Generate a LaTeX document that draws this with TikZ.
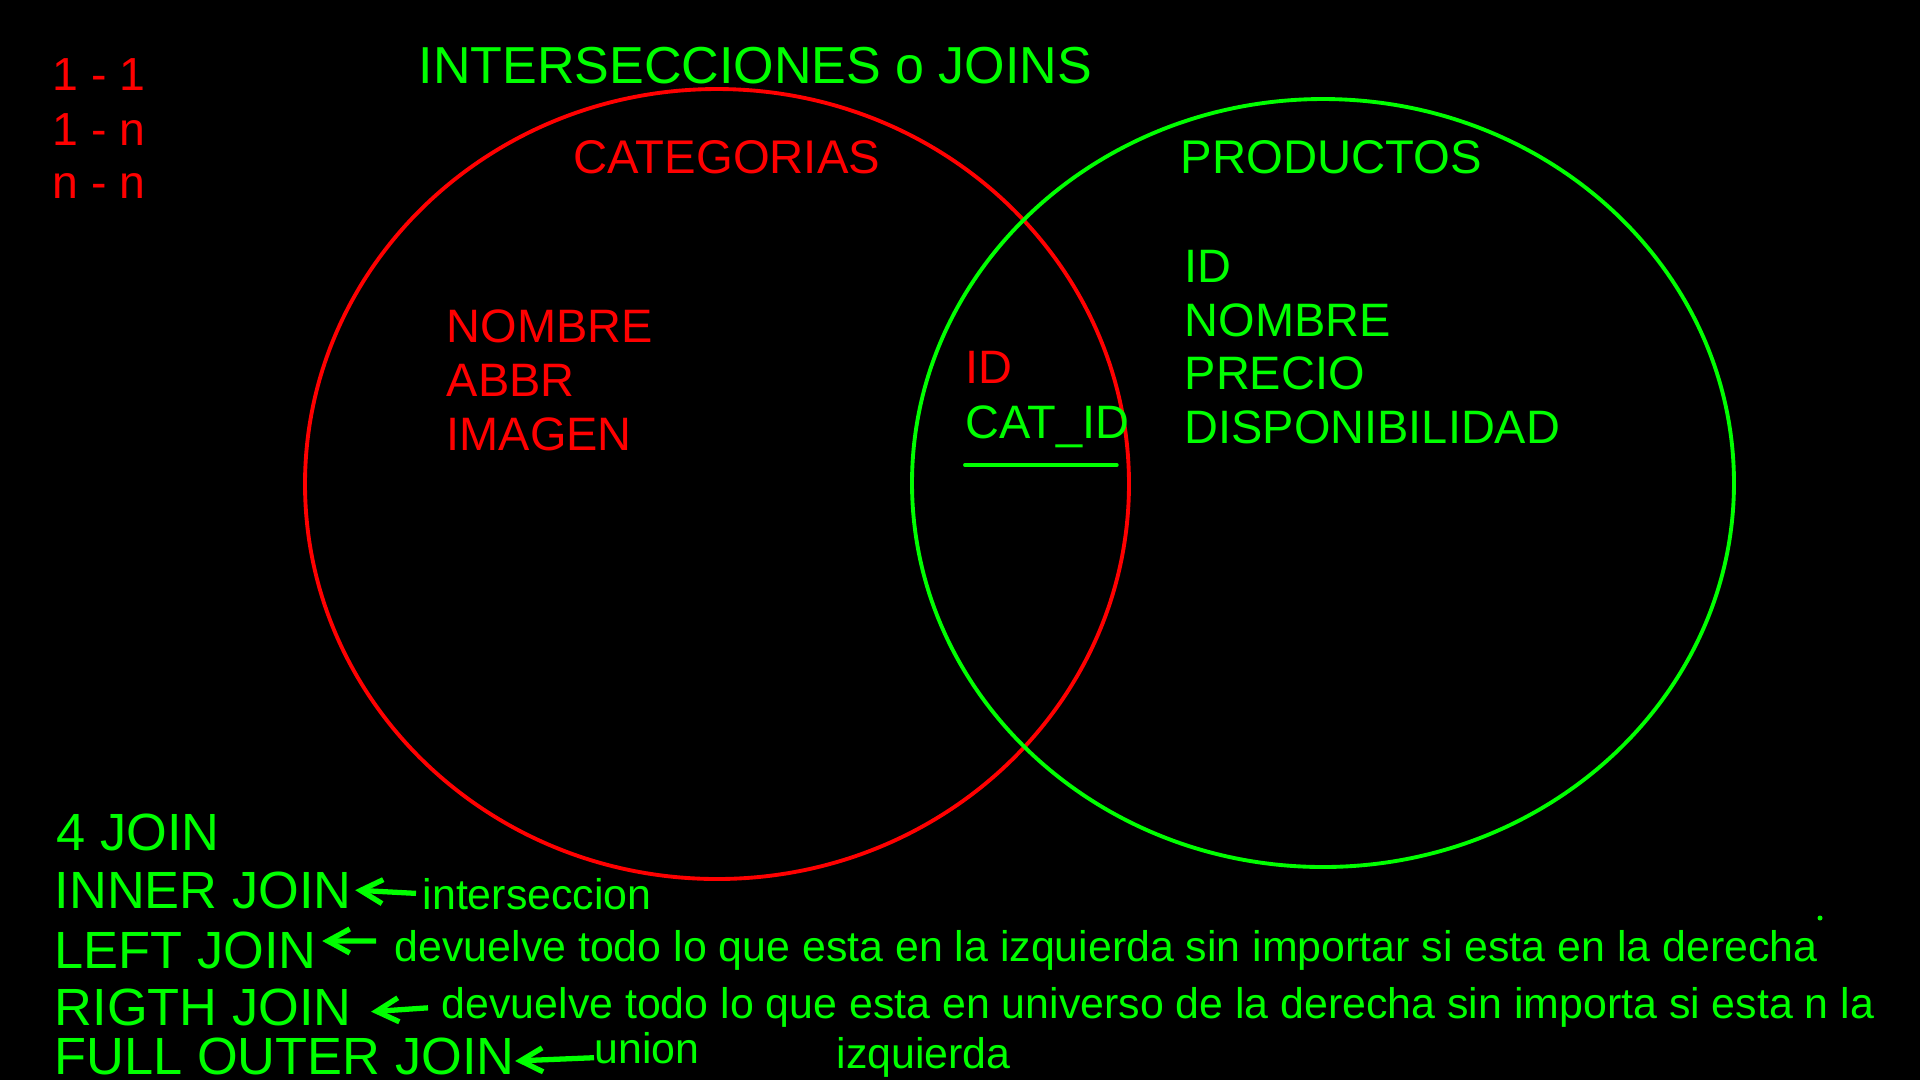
\documentclass[tikz,border=0pt]{standalone}
\usepackage{fontspec}
\setmainfont{Liberation Sans}
\usepackage{tikz}
\usetikzlibrary{arrows.meta,positioning}
\definecolor{Rojo}{HTML}{FF0000}
\definecolor{Verde}{HTML}{00FF00}

\begin{document}
\begin{tikzpicture}[
  x=0.1mm,y=-0.1mm,
  txt/.style={inner sep=0pt,anchor=base west},
  titulo/.style={txt,text=Verde,font=\fontsize{14.8}{17}\selectfont},
  tabla/.style={txt,font=\fontsize{13.45}{16}\selectfont},
  campo/.style={txt,font=\fontsize{13.35}{16}\selectfont},
  rel/.style={txt,text=Rojo,font=\fontsize{13.2}{16}\selectfont},
  tipojoin/.style={txt,text=Verde,font=\fontsize{14.9}{17}\selectfont},
  nota/.style={txt,text=Verde,font=\fontsize{12.2}{15}\selectfont},
  flecha/.style={-{Straight Barb[length=2.2mm,width=2.4mm]},line width=1.5pt,draw=Verde},
  conjunto/.style={line width=1.1pt}
]
\fill[black] (0,0) rectangle (1920,1080);
\useasboundingbox (0,0) rectangle (1920,1080);

% conjuntos
\draw[conjunto,draw=Rojo] (717,484) ellipse [x radius=41.2mm,y radius=39.5mm];
\draw[conjunto,draw=Verde] (1323,483) ellipse [x radius=41.1mm,y radius=38.4mm];

\node[titulo] (titulo) at (418,83) {INTERSECCIONES o JOINS};
\node[rel] (r11) at (52,90) {1 - 1};
\node[rel] (r1n) at ([yshift=-5.5mm]r11.base west) {1 - n};
\node[rel] (rnn) at ([yshift=-5.3mm]r1n.base west) {n - n};

\node[tabla,text=Rojo] (cat) at (573,173) {CATEGORIAS};
\node[tabla,text=Verde] (prod) at (1180,173) {PRODUCTOS};

% campos de categorias
\node[campo,text=Rojo] (cNombre) at (446,342) {NOMBRE};
\node[campo,text=Rojo] (cAbbr) at ([yshift=-5.4mm]cNombre.base west) {ABBR};
\node[campo,text=Rojo] (cImagen) at ([yshift=-5.4mm]cAbbr.base west) {IMAGEN};

% interseccion
\node[campo,text=Rojo] (pId) at (965,383) {ID};
\node[campo,text=Verde] (pCatId) at ([yshift=-5.5mm]pId.base west) {CAT\_ID};
\draw[Verde,line width=1.1pt,line cap=round] ([yshift=-2.7mm]pCatId.base west) -- ([xshift=-1.3mm,yshift=-2.7mm]pCatId.base east);

% campos de productos
\node[campo,text=Verde] (gId) at (1184,282) {ID};
\node[campo,text=Verde] (gNombre) at ([yshift=-5.4mm]gId.base west) {NOMBRE};
\node[campo,text=Verde] (gPrecio) at ([yshift=-5.3mm]gNombre.base west) {PRECIO};
\node[campo,text=Verde] (gDisp) at ([yshift=-5.4mm]gPrecio.base west) {DISPONIBILIDAD};

% tipos de join
\node[tipojoin] (j4) at (56,850) {4 JOIN};
\node[tipojoin] (jInner) at (54,908) {INNER JOIN};
\node[tipojoin] (jLeft) at (54,968) {LEFT JOIN};
\node[tipojoin] (jRigth) at (54,1025) {RIGTH JOIN};
\node[tipojoin] (jFull) at (54,1074) {FULL OUTER JOIN};

\node[nota] (dInner) at (422,909) {interseccion};
\node[nota] (dLeft) at (394,961) {devuelve todo lo que esta en la izquierda sin importar si esta en la derecha};
\node[nota] (dRigth) at (441,1018) {devuelve todo lo que esta en universo de la derecha sin importa si esta n la};
\node[nota] (dRigthB) at (836,1068) {izquierda};
\node[nota] (dFull) at (594,1063) {union};

\draw[flecha,shorten <=0.6mm,shorten >=0.3mm] (dInner.west) -- (jInner.east);
\draw[flecha,shorten <=1.8mm,shorten >=0.5mm] ([yshift=0.9mm]dLeft.west) -- ([yshift=0.9mm]jLeft.east);
\draw[flecha,shorten <=1.3mm,shorten >=1.9mm] (dRigth.west) -- ([yshift=-0.6mm]jRigth.east);
\draw[flecha] ([yshift=-1mm]dFull.west) -- ([yshift=-0.5mm]jFull.east);

\fill[Verde] (1820,918) circle (0.25mm);
\end{tikzpicture}
\end{document}
